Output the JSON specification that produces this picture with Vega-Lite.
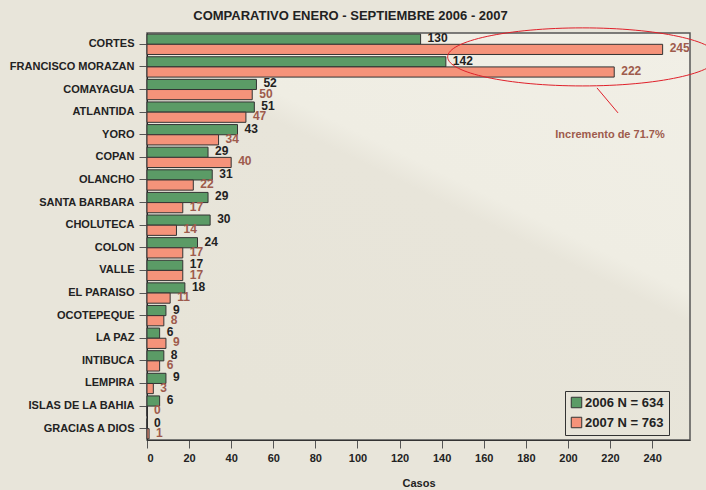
{
  "$schema": "https://vega.github.io/schema/vega-lite/v6.json",
  "width": 543,
  "height": 407,
  "autosize": {"type": "none"},
  "padding": {"left": 147, "top": 33, "right": 16, "bottom": 50},
  "background": "#e8e5da",
  "config": {
    "font": "Liberation Sans, Arial, sans-serif",
    "view": {
      "stroke": "#555",
      "strokeWidth": 1.5,
      "fill": {
        "gradient": "linear", "x1": 1, "y1": 0, "x2": 0.35, "y2": 1,
        "stops": [
          {"offset": 0, "color": "#f1efe6"},
          {"offset": 0.45, "color": "#efede3"},
          {"offset": 0.5, "color": "#e8e5da"},
          {"offset": 1, "color": "#e7e4d8"}
        ]
      }
    }
  },
  "title": {
    "text": "COMPARATIVO ENERO - SEPTIEMBRE 2006 - 2007",
    "fontSize": 13,
    "fontWeight": "bold",
    "color": "#222",
    "anchor": "middle",
    "dx": -68,
    "offset": 3
  },
  "datasets": {
    "casos": [
      {"dept": "CORTES", "year": "2006", "value": 130},
      {"dept": "CORTES", "year": "2007", "value": 245},
      {"dept": "FRANCISCO MORAZAN", "year": "2006", "value": 142},
      {"dept": "FRANCISCO MORAZAN", "year": "2007", "value": 222},
      {"dept": "COMAYAGUA", "year": "2006", "value": 52},
      {"dept": "COMAYAGUA", "year": "2007", "value": 50},
      {"dept": "ATLANTIDA", "year": "2006", "value": 51},
      {"dept": "ATLANTIDA", "year": "2007", "value": 47},
      {"dept": "YORO", "year": "2006", "value": 43},
      {"dept": "YORO", "year": "2007", "value": 34},
      {"dept": "COPAN", "year": "2006", "value": 29},
      {"dept": "COPAN", "year": "2007", "value": 40},
      {"dept": "OLANCHO", "year": "2006", "value": 31},
      {"dept": "OLANCHO", "year": "2007", "value": 22},
      {"dept": "SANTA BARBARA", "year": "2006", "value": 29},
      {"dept": "SANTA BARBARA", "year": "2007", "value": 17},
      {"dept": "CHOLUTECA", "year": "2006", "value": 30},
      {"dept": "CHOLUTECA", "year": "2007", "value": 14},
      {"dept": "COLON", "year": "2006", "value": 24},
      {"dept": "COLON", "year": "2007", "value": 17},
      {"dept": "VALLE", "year": "2006", "value": 17},
      {"dept": "VALLE", "year": "2007", "value": 17},
      {"dept": "EL PARAISO", "year": "2006", "value": 18},
      {"dept": "EL PARAISO", "year": "2007", "value": 11},
      {"dept": "OCOTEPEQUE", "year": "2006", "value": 9},
      {"dept": "OCOTEPEQUE", "year": "2007", "value": 8},
      {"dept": "LA PAZ", "year": "2006", "value": 6},
      {"dept": "LA PAZ", "year": "2007", "value": 9},
      {"dept": "INTIBUCA", "year": "2006", "value": 8},
      {"dept": "INTIBUCA", "year": "2007", "value": 6},
      {"dept": "LEMPIRA", "year": "2006", "value": 9},
      {"dept": "LEMPIRA", "year": "2007", "value": 3},
      {"dept": "ISLAS DE LA BAHIA", "year": "2006", "value": 6},
      {"dept": "ISLAS DE LA BAHIA", "year": "2007", "value": 0},
      {"dept": "GRACIAS A DIOS", "year": "2006", "value": 0},
      {"dept": "GRACIAS A DIOS", "year": "2007", "value": 1}
    ],
    "elipse": [{"dept": "CORTES", "value": 207}],
    "linea": [{"dept": "FRANCISCO MORAZAN", "value": 213.8, "value2": 223.8}],
    "nota": [{"dept": "YORO", "value": 220, "label": "Incremento de 71.7%"}]
  },
  "layer": [
    {
      "data": {"name": "casos"},
      "mark": {"type": "bar", "stroke": "#333", "strokeWidth": 1},
      "encoding": {
        "y": {
          "field": "dept", "type": "nominal", "sort": null,
          "scale": {"paddingInner": 0.1, "paddingOuter": 0.05},
          "axis": {
            "title": null, "labelFontSize": 11, "labelFontWeight": "bold",
            "labelColor": "#222", "tickSize": 8, "tickColor": "#555",
            "domainColor": "#222", "labelPadding": 5
          }
        },
        "x": {
          "field": "value", "type": "quantitative",
          "scale": {"domain": [0, 258], "nice": false},
          "axis": {
            "title": "Casos", "values": [0,20,40,60,80,100,120,140,160,180,200,220,240],
            "grid": false, "tickSize": 8, "tickColor": "#555", "domainColor": "#333",
            "labelFontSize": 11, "labelFontWeight": "bold", "labelColor": "#222",
            "labelPadding": 4, "titleFontSize": 11, "titleFontWeight": "bold",
            "titleColor": "#222", "titlePadding": 14
          }
        },
        "yOffset": {"field": "year", "type": "nominal", "scale": {"paddingInner": 0, "paddingOuter": 0}},
        "color": {
          "field": "year", "type": "nominal",
          "scale": {"domain": ["2006", "2007"], "range": ["#5b9b66", "#f5937a"]},
          "legend": {
            "title": null, "orient": "none", "legendX": 418, "legendY": 358,
            "labelExpr": "datum.label == '2006' ? '2006 N = 634' : '2007 N = 763'",
            "strokeColor": "#333", "padding": 5, "symbolType": "square",
            "symbolSize": 110, "symbolStrokeColor": "#333", "symbolStrokeWidth": 1,
            "symbolOpacity": 1, "labelFontSize": 13, "labelFontWeight": "bold",
            "labelColor": "#222", "rowPadding": 5, "labelOffset": 2
          }
        }
      }
    },
    {
      "data": {"name": "casos"},
      "mark": {"type": "text", "align": "left", "dx": 7, "dy": -1, "fontSize": 12, "fontWeight": "bold"},
      "encoding": {
        "y": {"field": "dept", "type": "nominal", "sort": null},
        "x": {"field": "value", "type": "quantitative"},
        "yOffset": {"field": "year", "type": "nominal"},
        "text": {"field": "value", "type": "quantitative"},
        "color": {"condition": {"test": "datum.year == '2006'", "value": "#222"}, "value": "#9e5b4c"}
      }
    },
    {
      "data": {"name": "elipse"},
      "mark": {
        "type": "point", "filled": false, "stroke": "#e0202a", "strokeWidth": 1, "opacity": 1,
        "size": 72900, "yOffset": 12.6,
        "shape": "M-1,0C-1,-0.1187,-0.5523,-0.215,0,-0.215C0.5523,-0.215,1,-0.1187,1,0C1,0.1187,0.5523,0.215,0,0.215C-0.5523,0.215,-1,0.1187,-1,0Z"
      },
      "encoding": {
        "y": {"field": "dept", "type": "nominal", "sort": null},
        "x": {"field": "value", "type": "quantitative"}
      }
    },
    {
      "data": {"name": "linea"},
      "mark": {"type": "rule", "color": "#e0202a", "strokeWidth": 1, "yOffset": 21, "y2Offset": 46},
      "encoding": {
        "y": {"field": "dept", "type": "nominal", "sort": null},
        "y2": {"field": "dept"},
        "x": {"field": "value", "type": "quantitative"},
        "x2": {"field": "value2"}
      }
    },
    {
      "data": {"name": "nota"},
      "mark": {"type": "text", "align": "center", "fontSize": 11, "fontWeight": "bold", "color": "#9e5b4c"},
      "encoding": {
        "y": {"field": "dept", "type": "nominal", "sort": null},
        "x": {"field": "value", "type": "quantitative"},
        "text": {"field": "label"}
      }
    }
  ]
}
